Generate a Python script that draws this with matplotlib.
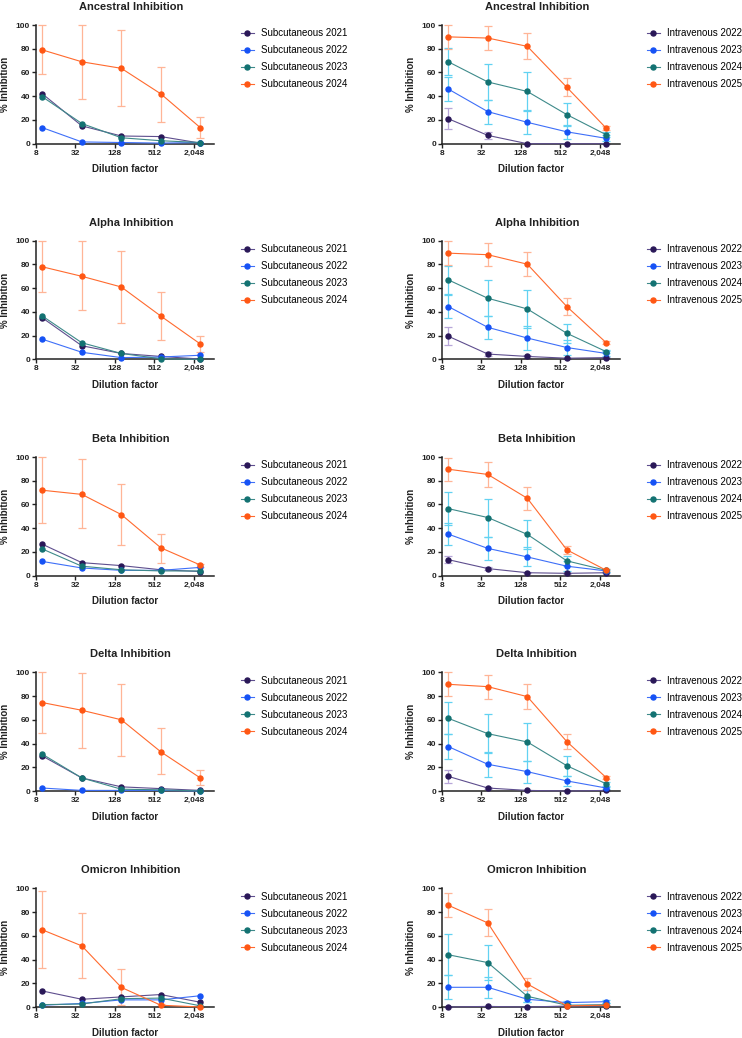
import matplotlib
matplotlib.use("Agg")
import matplotlib.pyplot as plt
from matplotlib.lines import Line2D
import numpy as np

plt.rcParams['font.family'] = ['Liberation Sans', 'DejaVu Sans']

# ---------------- data ----------------
dilutions = [10, 40, 160, 640, 2560]
xticks = [8, 32, 128, 512, 2048]
xtick_labels = ['8', '32', '128', '512', '2,048']
yticks = [0, 20, 40, 60, 80, 100]
variants = ['Ancestral', 'Alpha', 'Beta', 'Delta', 'Omicron']
sc_labels = ['Subcutaneous 2021', 'Subcutaneous 2022', 'Subcutaneous 2023', 'Subcutaneous 2024']
iv_labels = ['Intravenous 2022', 'Intravenous 2023', 'Intravenous 2024', 'Intravenous 2025']

# Subcutaneous means (2021, 2022, 2023, 2024)
sc_ancestral = [[42, 15, 6.5, 6, 0.5], [13.5, 1.5, 1, 0.5, 1], [39.5, 17, 5, 2.5, 1], [79, 69, 63.5, 42, 13.5]]
sc_alpha = [[35, 11.5, 5, 2.5, 0.3], [17, 6, 1.5, 2, 3.5], [36.5, 14, 5, 0.5, 0], [78, 70, 61, 36.5, 13]]
sc_beta = [[26.5, 11, 8.5, 5, 3.5], [12, 6.5, 4.5, 4.5, 7], [22.5, 8, 5, 4, 4], [72, 68.5, 51.5, 23.5, 9]]
sc_delta = [[29.5, 11, 3.5, 2, 0.5], [2.5, 0.5, 0.5, 0.5, 0], [31, 11, 1.5, 1, 0], [74.5, 68, 60, 33, 11]]
sc_omicron = [[13.5, 6.5, 8.5, 10.5, 4], [1.5, 3, 6, 6, 9.5], [2, 2.5, 7, 7.5, 1], [65, 51.5, 16.5, 1.5, 0]]

# Subcutaneous 2024 error bounds (low, high)
sc_ancestral_lo = [58.5, 37.5, 32, 18.5, 5]
sc_ancestral_hi = [100, 100, 95.5, 65, 22.5]
sc_alpha_lo = [56.5, 41.5, 31, 16, 6.5]
sc_alpha_hi = [100, 99.5, 91, 56.5, 19.5]
sc_beta_lo = [44.5, 40, 25.5, 10.5, 7.5]
sc_beta_hi = [100, 98, 77.5, 35.5, 10]
sc_delta_lo = [48.5, 36, 29.5, 14, 5]
sc_delta_hi = [100, 99.5, 90, 53, 17.5]
sc_omicron_lo = [32.5, 24.5, 1.5, 0.5, 0]
sc_omicron_hi = [97.5, 79, 32, 2.5, 0]

# Intravenous means (2022, 2023, 2024, 2025)
iv_ancestral = [[21, 7, 0, 0, 0], [46, 27, 18, 10, 4.5], [69, 52, 44, 24.5, 7.5], [90, 89, 82, 47.5, 13]]
iv_alpha = [[19.5, 4.5, 2.5, 1, 1.5], [44.5, 27, 18, 10, 5], [67, 51.5, 42.5, 22, 6.5], [89.5, 88.2, 80.2, 44.5, 14]]
iv_beta = [[13.5, 6, 2.5, 2, 2.5], [35, 23, 15.8, 8, 4], [56.5, 49, 34.8, 12.5, 4.5], [89.7, 85.3, 65.2, 21.8, 4.5]]
iv_delta = [[12.3, 2.5, 0.5, 0, 0.5], [37.4, 22.5, 16.3, 8.5, 2.5], [61.2, 48.3, 41.3, 21.3, 6], [89.9, 87.9, 79.5, 41.6, 11.2]]
iv_omicron = [[0, 0.5, 0, 0.8, 1], [16.6, 16.6, 6.5, 3.7, 4.5], [44, 37.4, 9, 1.5, 2], [85.7, 70.8, 19.4, 1, 1.5]]

# Intravenous error half-widths (2022, 2023, 2024, 2025)
iv_ancestral_err = [[9, 3, 0, 0, 0], [10, 10, 10, 6, 2.5], [11.5, 15.5, 16.5, 10, 2], [10, 10, 11, 7.5, 1.5]]
iv_alpha_err = [[7.5, 2, 1, 0.5, 0.5], [10, 9.5, 10, 6, 2], [11.5, 15, 16, 8, 1.5], [10, 9.8, 10.3, 7, 1.2]]
iv_beta_err = [[3, 1.5, 0.5, 0.5, 0.5], [9, 10, 8, 4, 1], [14, 16, 12.5, 4.5, 1], [9.8, 10.2, 9.5, 3.5, 0.8]]
iv_delta_err = [[5.5, 1, 0.3, 0, 0.3], [10.5, 10.3, 9.3, 4.5, 1], [13.5, 16.3, 16.3, 8.5, 1.5], [10, 10, 10.7, 6.5, 1.2]]
iv_omicron_err = [[0, 0.3, 0, 0.3, 0.3], [10.2, 9, 2, 1, 1], [17.2, 14.6, 5, 1, 1], [10, 11.4, 4.8, 0.5, 0.5]]

# ---------------- styling ----------------
marker_colors = ['#2A1858', '#1652F5', '#137272', '#FF5714']
line_colors = ['#5E4E8E', '#3E6FF8', '#3E8A8A', '#FF6A2E']
err_colors = ['#B7A6D8', '#62D2F2', '#62D2F2', '#FFB597']

W, H = 742, 1038
fig = plt.figure(figsize=(W / 100, H / 100), dpi=100)

ax_w, ax_h = 177.7, 118.7
col_left = [36, 442]
row_top = [25, 240.7, 457, 672.3, 888.3]

sc_means = [sc_ancestral, sc_alpha, sc_beta, sc_delta, sc_omicron]
sc_lo = [sc_ancestral_lo, sc_alpha_lo, sc_beta_lo, sc_delta_lo, sc_omicron_lo]
sc_hi = [sc_ancestral_hi, sc_alpha_hi, sc_beta_hi, sc_delta_hi, sc_omicron_hi]
iv_means = [iv_ancestral, iv_alpha, iv_beta, iv_delta, iv_omicron]
iv_errs = [iv_ancestral_err, iv_alpha_err, iv_beta_err, iv_delta_err, iv_omicron_err]


def style_axes(ax, title):
    ax.set_xscale('log', base=2)
    ax.set_xlim(8, 4096)
    ax.set_ylim(0, 100)
    ax.set_xticks(xticks)
    ax.set_xticklabels(xtick_labels)
    ax.minorticks_off()
    ax.set_yticks(yticks)
    for s in ['top', 'right']:
        ax.spines[s].set_visible(False)
    for s in ['left', 'bottom']:
        ax.spines[s].set_linewidth(1.1)
        ax.spines[s].set_color('#222222')
    ax.tick_params(axis='both', length=3, width=1.0, pad=1.2, labelsize=6,
                   color='#222222', labelcolor='#222222')
    for lab in ax.get_xticklabels() + ax.get_yticklabels():
        lab.set_fontweight('bold')
    ax.set_ylabel('% Inhibition', fontsize=7, fontweight='bold', color='#222222')
    ax.yaxis.set_label_coords(-0.145, 0.5)
    ax.set_xlabel('Dilution factor', fontsize=7, fontweight='bold', color='#222222', va='top')
    ax.xaxis.set_label_coords(0.5, -0.175)
    ax.text(0.534, 1.126, title, transform=ax.transAxes, ha='center', va='baseline',
            fontsize=8, fontweight='bold', color='#222222')


for r in range(5):
    for c in range(2):
        left = col_left[c] / W
        bottom = 1 - (row_top[r] + ax_h) / H
        ax = fig.add_axes([left, bottom, ax_w / W, ax_h / H])
        style_axes(ax, variants[r] + ' Inhibition')
        labels = sc_labels if c == 0 else iv_labels
        handles = []
        for i in range(4):
            if c == 0:
                y = np.array(sc_means[r][i], dtype=float)
                if i == 3:
                    lo = np.array(sc_lo[r], dtype=float)
                    hi = np.array(sc_hi[r], dtype=float)
                    yerr = [y - lo, hi - y]
                else:
                    yerr = None
            else:
                y = np.array(iv_means[r][i], dtype=float)
                e = np.array(iv_errs[r][i], dtype=float)
                yerr = [e, e]
            if yerr is not None:
                ax.errorbar(dilutions, y, yerr=yerr, fmt='none', ecolor=err_colors[i],
                            elinewidth=0.9, capsize=2.8, capthick=0.9, zorder=2 + i * 0.1,
                            clip_on=False)
            ax.plot(dilutions, y, '-', color=line_colors[i], lw=0.8, zorder=3 + i * 0.1,
                    clip_on=False)
            ax.plot(dilutions, y, 'o', color=marker_colors[i], ms=3.6, mec=marker_colors[i],
                    zorder=3.05 + i * 0.1, clip_on=False)
            handles.append(Line2D([0], [0], color=line_colors[i], lw=0.8, marker='o', ms=3.6,
                                  mfc=marker_colors[i], mec=marker_colors[i]))
        ax.legend(handles, labels, loc='upper left', bbox_to_anchor=(1.153, 0.973),
                  frameon=False, fontsize=7, borderpad=0, borderaxespad=0,
                  handlelength=1.3, handletextpad=0.75, labelspacing=0.72)

fig.savefig('out.png', dpi=100)
